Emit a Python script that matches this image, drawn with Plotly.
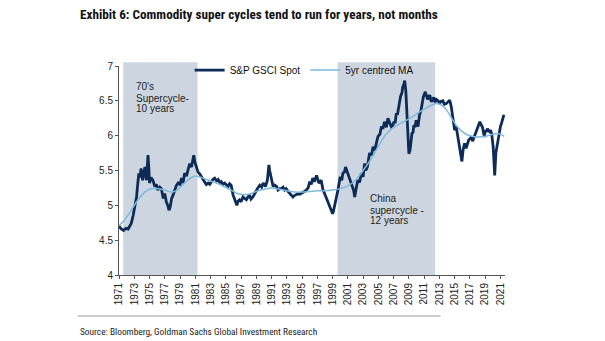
import plotly.graph_objects as go

spot_years = [1971.0,1971.3,1971.6,1971.9,1972.2,1972.45,1972.6,1972.85,1973.05,1973.3,1973.45,1973.6,1973.75,1973.9,
1974.1,1974.25,1974.4,1974.6,1974.8,1974.9,1975.0,1975.2,1975.45,1975.7,1975.9,1976.1,1976.35,1976.55,1976.8,1977.0,
1977.2,1977.4,1977.55,1977.7,1977.9,1978.1,1978.3,1978.5,1978.75,1979.0,1979.2,1979.4,1979.6,1979.85,1980.05,1980.27,
1980.5,1980.7,1980.8,1980.95,1981.15,1981.35,1981.6,1981.8,1982.0,1982.2,1982.45,1982.7,1982.9,1983.1,1983.3,1983.55,
1983.8,1984.0,1984.2,1984.4,1984.6,1984.85,1985.1,1985.3,1985.5,1985.7,1985.95,1986.2,1986.45,1986.6,1986.8,1987.0,
1987.25,1987.45,1987.7,1987.9,1988.1,1988.3,1988.55,1988.8,1989.0,1989.2,1989.45,1989.7,1989.9,1990.2,1990.45,1990.65,
1990.75,1990.9,1991.1,1991.2,1991.4,1991.65,1991.85,1992.1,1992.3,1992.5,1992.7,1992.9,1993.15,1993.4,1993.6,1993.8,
1994.0,1994.25,1994.5,1994.7,1994.9,1995.2,1995.55,1995.8,1996.0,1996.2,1996.4,1996.6,1996.9,1997.05,1997.2,1997.5,
1997.75,1997.95,1998.2,1998.4,1998.75,1999.0,1999.1,1999.35,1999.55,1999.7,2000.0,2000.2,2000.35,2000.55,2000.7,2000.85,
2001.0,2001.2,2001.35,2001.55,2001.75,2001.9,2002.1,2002.3,2002.55,2002.75,2003.0,2003.2,2003.35,2003.55,2003.85,2004.1,
2004.3,2004.55,2004.75,2004.95,2005.2,2005.4,2005.6,2005.8,2006.05,2006.25,2006.5,2006.7,2006.9,2007.05,2007.2,2007.35,
2007.5,2007.65,2007.9,2008.1,2008.2,2008.35,2008.45,2008.6,2008.75,2008.9,2009.0,2009.15,2009.3,2009.4,2009.55,2009.65,
2009.8,2009.95,2010.2,2010.4,2010.6,2010.75,2010.9,2011.15,2011.3,2011.45,2011.6,2011.75,2011.9,2012.05,2012.25,2012.45,
2012.6,2012.85,2013.0,2013.2,2013.45,2013.65,2013.9,2014.15,2014.35,2014.55,2014.8,2015.0,2015.2,2015.45,2015.65,2015.8,
2015.95,2016.1,2016.3,2016.5,2016.7,2016.85,2017.05,2017.2,2017.35,2017.55,2017.75,2017.9,2018.05,2018.3,2018.5,2018.65,
2018.75,2018.9,2019.0,2019.15,2019.3,2019.55,2019.7,2019.85,2020.05,2020.15,2020.25,2020.4,2020.6,2020.8,2021.0,2021.15,
2021.3,2021.45]

spot_values = [4.70,4.66,4.64,4.67,4.66,4.70,4.74,4.85,4.98,5.12,5.30,5.46,5.40,5.53,
5.36,5.45,5.55,5.36,5.72,5.55,5.32,5.40,5.36,5.27,5.30,5.22,5.26,5.24,5.10,5.17,
5.05,5.00,4.93,4.97,5.10,5.15,5.22,5.28,5.32,5.30,5.39,5.32,5.46,5.42,5.51,5.60,
5.55,5.65,5.72,5.62,5.55,5.48,5.45,5.41,5.36,5.34,5.30,5.32,5.30,5.34,5.37,5.39,
5.35,5.37,5.33,5.34,5.30,5.32,5.29,5.27,5.31,5.29,5.15,5.08,5.00,5.06,5.08,5.05,
5.12,5.10,5.08,5.12,5.15,5.09,5.12,5.17,5.22,5.25,5.29,5.26,5.32,5.27,5.36,5.58,
5.50,5.41,5.33,5.27,5.29,5.27,5.22,5.24,5.24,5.26,5.22,5.24,5.20,5.17,5.14,5.12,
5.14,5.15,5.17,5.16,5.17,5.19,5.22,5.25,5.34,5.30,5.39,5.34,5.43,5.36,5.32,5.36,
5.22,5.17,5.10,5.03,4.96,4.88,4.91,5.03,5.12,5.22,5.41,5.36,5.46,5.48,5.55,5.50,
5.43,5.38,5.32,5.28,5.22,5.12,5.25,5.36,5.33,5.46,5.41,5.60,5.50,5.55,5.75,5.72,
5.84,5.79,5.90,5.99,6.02,6.13,6.10,6.20,6.12,6.25,6.18,6.13,6.15,6.20,6.18,6.32,
6.30,6.42,6.56,6.62,6.70,6.74,6.79,6.64,6.22,5.85,5.74,5.79,5.90,6.03,6.05,6.15,
6.12,6.22,6.13,6.30,6.37,6.45,6.56,6.63,6.58,6.52,6.56,6.58,6.50,6.50,6.55,6.48,
6.52,6.50,6.46,6.49,6.50,6.45,6.46,6.49,6.51,6.42,6.22,6.08,6.13,5.94,5.84,5.72,
5.63,5.79,5.89,5.82,5.90,5.94,5.96,5.99,5.92,5.98,6.06,6.10,6.15,6.20,6.15,6.12,
6.06,5.98,6.08,6.05,6.10,6.06,6.08,6.03,5.84,5.55,5.43,5.75,5.89,6.01,6.13,6.18,
6.25,6.30]

ma_years = [1971.0,1971.5,1972.0,1972.5,1973.0,1973.5,1974.0,1974.5,1975.0,1975.5,1976.0,1976.5,1977.0,1977.5,
1978.0,1978.5,1979.0,1979.5,1980.0,1980.5,1981.0,1981.5,1982.0,1983.0,1984.0,1985.0,1986.0,1986.5,1987.0,1988.0,
1989.0,1990.0,1991.0,1992.0,1993.0,1994.0,1995.0,1996.0,1997.0,1998.0,1999.0,2000.0,2001.0,2002.0,2003.0,2004.0,
2005.0,2006.0,2007.0,2008.0,2009.0,2010.0,2011.0,2012.0,2012.7,2013.5,2014.0,2014.5,2015.0,2015.5,2016.0,2016.5,
2017.0,2018.0,2019.0,2020.0,2020.7,2021.5]
ma_values = [4.71,4.76,4.83,4.91,5.00,5.08,5.15,5.20,5.23,5.24,5.24,5.23,5.22,5.20,
5.19,5.21,5.26,5.31,5.36,5.40,5.42,5.41,5.39,5.35,5.31,5.26,5.20,5.17,5.16,5.16,
5.20,5.23,5.25,5.23,5.21,5.19,5.19,5.20,5.21,5.21,5.22,5.24,5.28,5.36,5.50,5.66,
5.85,6.02,6.12,6.18,6.24,6.31,6.38,6.44,6.46,6.42,6.36,6.27,6.18,6.11,6.06,6.02,
6.00,5.98,5.99,6.02,6.03,5.99]

cycle_starts = [1971.55, 1999.65]
cycle_ends = [1981.3, 2012.45]
cycle_labels = [["70's", "Supercycle-", "10 years"], ["China", "supercycle -", "12 years"]]
cycle_label_pos = [(1972.95, [6.70, 6.54, 6.39]), (2003.6, [5.105, 4.93, 4.78])]

x_ticks = list(range(1971, 2022, 2))
y_ticks = [4, 4.5, 5, 5.5, 6, 6.5, 7]

SPOT_COLOR = "#0d2b57"
MA_COLOR = "#7db9dc"
SHADE = "#cdd6e0"
FONT = "Liberation Sans, Arial, sans-serif"
NARROW = "Roboto Condensed, Liberation Sans Narrow, Arial Narrow, Roboto, sans-serif"

fig = go.Figure()
fig.add_trace(go.Scatter(x=spot_years, y=spot_values, mode="lines", name="S&P GSCI Spot",
                         line=dict(color=SPOT_COLOR, width=2.8)))
fig.add_trace(go.Scatter(x=ma_years, y=ma_values, mode="lines", name="5yr centred MA",
                         line=dict(color=MA_COLOR, width=1.5, shape="spline")))

for x0, x1 in zip(cycle_starts, cycle_ends):
    fig.add_shape(type="rect", xref="x", yref="paper", x0=x0, x1=x1, y0=0, y1=1.018,
                  fillcolor=SHADE, line=dict(width=0), layer="below")

for lines, (lx, lys) in zip(cycle_labels, cycle_label_pos):
    for t, ly in zip(lines, lys):
        fig.add_annotation(x=lx, y=ly, xref="x", yref="y", text=t, showarrow=False,
                           xanchor="left", yanchor="middle", font=dict(family=FONT, size=10, color="#222"))

# title
fig.add_annotation(xref="paper", yref="paper", x=-0.107, y=1.245, xanchor="left", yanchor="middle",
                   text="<b>Exhibit 6: Commodity super cycles tend to run for years, not months</b>",
                   showarrow=False, font=dict(family=NARROW, size=13.2, color="#111"))
# source line and text
fig.add_shape(type="line", xref="paper", yref="paper", x0=-0.107, x1=0.833, y0=-0.196, y1=-0.196,
              line=dict(color="#9a9a9a", width=1))
fig.add_annotation(xref="paper", yref="paper", x=-0.107, y=-0.268, xanchor="left", yanchor="middle",
                   text="Source: Bloomberg, Goldman Sachs Global Investment Research",
                   showarrow=False, font=dict(family=NARROW, size=9.4, color="#222"))

fig.update_layout(
    width=605, height=341,
    margin=dict(l=119, r=100, t=66, b=66),
    paper_bgcolor="white", plot_bgcolor="white",
    showlegend=True,
    legend=dict(orientation="h", x=0.183, y=1.05, xanchor="left", yanchor="top",
                font=dict(family=FONT, size=10, color="#111"), bgcolor="rgba(0,0,0,0)",
                tracegroupgap=0, itemwidth=30),
    xaxis=dict(range=[1971, 2021.6], tickmode="array", tickvals=x_ticks,
               ticktext=[str(v) for v in x_ticks], tickangle=-90, showgrid=False, zeroline=False,
               showline=True, linecolor="#555", linewidth=1, ticks="outside", ticklen=3,
               tickcolor="#555", tickfont=dict(family=FONT, size=10, color="#222")),
    yaxis=dict(range=[4, 7], tickmode="array", tickvals=y_ticks,
               ticktext=["4", "4.5", "5", "5.5", "6", "6.5", "7"], showgrid=False, zeroline=False,
               showline=True, linecolor="#555", linewidth=1, ticks="outside", ticklen=3,
               tickcolor="#555", tickfont=dict(family=FONT, size=10, color="#222")),
)

fig.write_html("out.html")
